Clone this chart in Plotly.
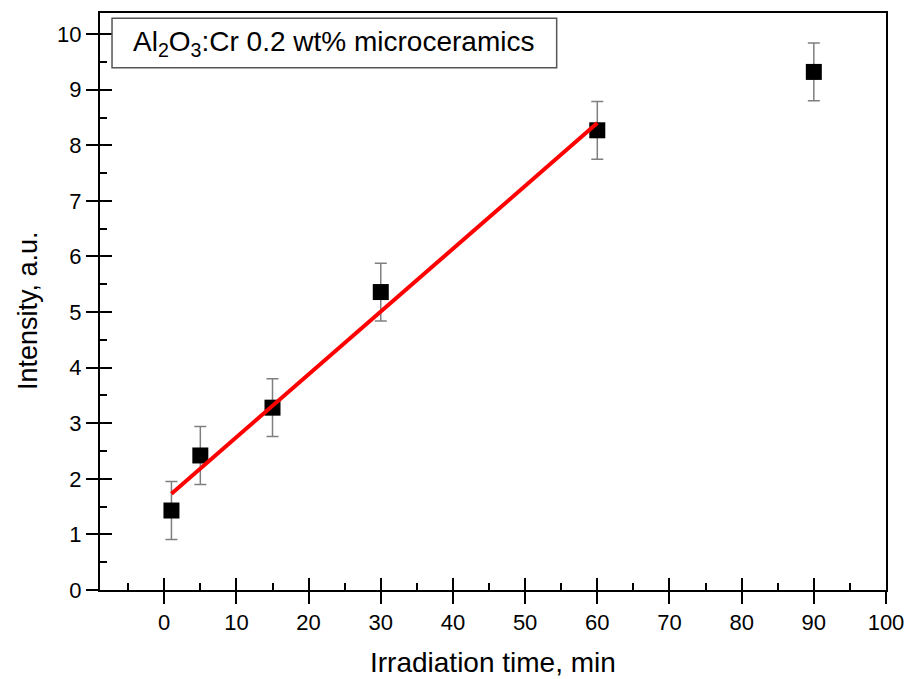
import plotly.graph_objects as go

# Data
time_min = [1, 5, 15, 30, 60, 90]
intensity = [1.43, 2.42, 3.28, 5.36, 8.27, 9.32]
intensity_err = [0.52, 0.52, 0.52, 0.52, 0.52, 0.52]
fit_x = [1, 60]
fit_y = [1.73, 8.40]

x_ticks = [0, 10, 20, 30, 40, 50, 60, 70, 80, 90, 100]
x_minor = [-5, 5, 15, 25, 35, 45, 55, 65, 75, 85, 95]
y_ticks = [0, 1, 2, 3, 4, 5, 6, 7, 8, 9, 10]
y_minor = [0.5, 1.5, 2.5, 3.5, 4.5, 5.5, 6.5, 7.5, 8.5, 9.5]
x_range = [-8.9, 100]
y_range = [0, 10.38]

x_title = "Irradiation time, min"
y_title = "Intensity, a.u."
label_text = "Al<sub>2</sub>O<sub>3</sub>:Cr 0.2 wt% microceramics"

FONT = "Liberation Sans, Arial, sans-serif"

fig = go.Figure()

fig.add_trace(go.Scatter(
    x=time_min, y=intensity, mode="markers",
    marker=dict(symbol="square", size=16, color="black"),
    error_y=dict(type="data", array=intensity_err, visible=True,
                 color="#7f7f7f", thickness=1.5, width=6),
    showlegend=False,
))
fig.add_trace(go.Scatter(
    x=fit_x, y=fit_y, mode="lines",
    line=dict(color="#ff0000", width=4),
    showlegend=False,
))
# transparent trace to activate overlay axes (inside half of crossing ticks)
fig.add_trace(go.Scatter(x=fit_x, y=fit_y, xaxis="x2", yaxis="y2",
                         mode="markers", marker=dict(opacity=0),
                         showlegend=False, hoverinfo="skip"))

common_axis = dict(showgrid=False, zeroline=False, showline=True,
                   linecolor="black", linewidth=2, mirror=True)

fig.update_layout(
    width=908, height=679,
    margin=dict(l=100, r=22, t=13, b=89, autoexpand=False),
    paper_bgcolor="white", plot_bgcolor="white",
    font=dict(family=FONT, color="black"),
    xaxis=dict(range=x_range, tickvals=x_ticks, ticks="outside", ticklen=12,
               tickwidth=2, tickcolor="black",
               tickfont=dict(size=22, family=FONT),
               minor=dict(tickvals=x_minor, ticks="inside", ticklen=7,
                          tickwidth=2, tickcolor="black"),
               **common_axis),
    yaxis=dict(range=y_range, tickvals=y_ticks, ticks="outside", ticklen=12,
               tickwidth=2, tickcolor="black",
               tickfont=dict(size=22, family=FONT),
               minor=dict(tickvals=y_minor, ticks="inside", ticklen=7,
                          tickwidth=2, tickcolor="black"),
               **common_axis),
    xaxis2=dict(range=x_range, tickvals=x_ticks, ticks="inside", ticklen=12,
                tickwidth=2, tickcolor="black", showticklabels=False,
                overlaying="x", anchor="y", side="bottom", showgrid=False,
                zeroline=False, showline=False),
    yaxis2=dict(range=y_range, tickvals=y_ticks, ticks="inside", ticklen=12,
                tickwidth=2, tickcolor="black", showticklabels=False,
                overlaying="y", anchor="x", side="left", showgrid=False,
                zeroline=False, showline=False),
)

# axis titles
fig.add_annotation(xref="paper", yref="paper", x=0.5, y=-0.1265,
                   xanchor="center", yanchor="middle", showarrow=False,
                   text=x_title, font=dict(size=28, family=FONT, color="black"))
fig.add_annotation(xref="paper", yref="paper", x=-0.0916, y=0.4835,
                   xanchor="center", yanchor="middle", showarrow=False,
                   textangle=-90,
                   text=y_title, font=dict(size=27, family=FONT, color="black"))

# label box
fig.add_shape(type="rect", xref="paper", yref="paper",
              x0=0.0153, x1=0.581, y0=0.905, y1=0.991,
              line=dict(color="#555555", width=1.5), fillcolor="white")
fig.add_annotation(xref="paper", yref="paper", x=0.0395, y=0.947,
                   xanchor="left", yanchor="middle", showarrow=False,
                   text=label_text,
                   font=dict(size=28, family=FONT, color="black"))

fig.write_html("out.html",
               config={"displayModeBar": False},
               post_script="document.body.style.margin='0';"
                           "document.body.style.overflow='hidden';")
